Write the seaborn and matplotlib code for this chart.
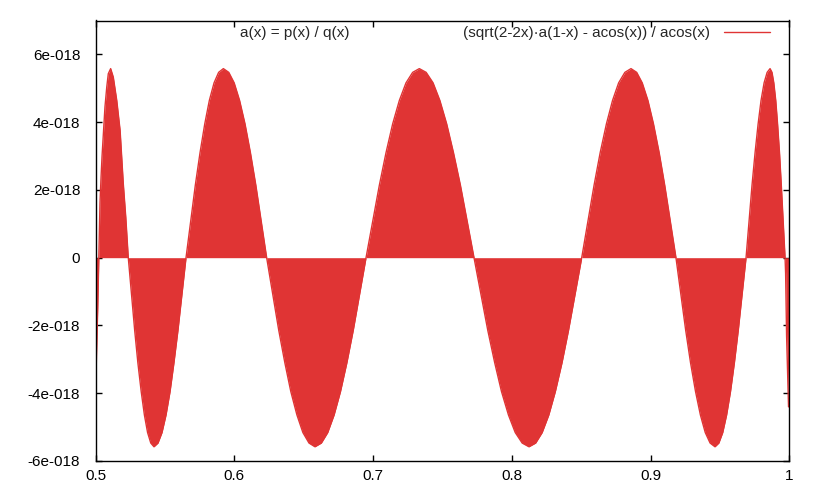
import numpy as np
import pandas as pd
import seaborn as sns
import matplotlib
matplotlib.use('Agg')
import matplotlib.pyplot as plt

# envelope of the relative error curve (y in units of 1e-18)
x_vals = [
    0.5000, 0.5008, 0.5016, 0.5024, 0.5032, 0.5040, 0.5047, 0.5056, 0.5068, 0.5081,
    0.5092, 0.5109, 0.5128, 0.5153, 0.5177, 0.5200, 0.5218, 0.5236,
    0.5282, 0.5305, 0.5329, 0.5352, 0.5375, 0.5398, 0.5421, 0.5450, 0.5479, 0.5508,
    0.5537, 0.5565, 0.5594, 0.5652,
    0.5719, 0.5753, 0.5787, 0.5820, 0.5854, 0.5887, 0.5921, 0.5960, 0.5999, 0.6038,
    0.6077, 0.6116, 0.6155, 0.6233,
    0.6320, 0.6364, 0.6407, 0.6451, 0.6494, 0.6538, 0.6581, 0.6627, 0.6673, 0.6719,
    0.6765, 0.6811, 0.6857, 0.6949,
    0.7045, 0.7093, 0.7141, 0.7189, 0.7237, 0.7285, 0.7333, 0.7382, 0.7432, 0.7481,
    0.7530, 0.7579, 0.7629, 0.7727,
    0.7826, 0.7876, 0.7925, 0.7975, 0.8024, 0.8074, 0.8123, 0.8171, 0.8218, 0.8266,
    0.8313, 0.8361, 0.8408, 0.8503,
    0.8592, 0.8636, 0.8681, 0.8725, 0.8769, 0.8814, 0.8858, 0.8899, 0.8939, 0.8980,
    0.9020, 0.9061, 0.9101, 0.9182,
    0.9252, 0.9287, 0.9323, 0.9358, 0.9393, 0.9428, 0.9463, 0.9491, 0.9519, 0.9547,
    0.9575, 0.9603, 0.9631, 0.9687,
    0.9730, 0.9752, 0.9774, 0.9795, 0.9817, 0.9839, 0.9860, 0.9874, 0.9887, 0.9901,
    0.9914, 0.9928, 0.9941, 0.9968,
    0.9972, 0.9979, 0.9986, 0.9993, 1.0000,
]
err_e18 = [
    -4.07, -2.70, -1.47, 0.00, 1.60, 2.40, 3.00, 3.60, 4.45, 5.04,
    5.43, 5.58, 5.33, 4.64, 3.76, 2.19, 1.19, 0.00,
    -2.14, -3.10, -3.95, -4.64, -5.16, -5.47, -5.58, -5.47, -5.16, -4.64,
    -3.95, -3.10, -2.14, 0.00,
    2.14, 3.10, 3.95, 4.64, 5.16, 5.47, 5.58, 5.47, 5.16, 4.64,
    3.95, 3.10, 2.14, 0.00,
    -2.14, -3.10, -3.95, -4.64, -5.16, -5.47, -5.58, -5.47, -5.16, -4.64,
    -3.95, -3.10, -2.14, 0.00,
    2.14, 3.10, 3.95, 4.64, 5.16, 5.47, 5.58, 5.47, 5.16, 4.64,
    3.95, 3.10, 2.14, 0.00,
    -2.14, -3.10, -3.95, -4.64, -5.16, -5.47, -5.58, -5.47, -5.16, -4.64,
    -3.95, -3.10, -2.14, 0.00,
    2.14, 3.10, 3.95, 4.64, 5.16, 5.47, 5.58, 5.47, 5.16, 4.64,
    3.95, 3.10, 2.14, 0.00,
    -2.14, -3.10, -3.95, -4.64, -5.16, -5.47, -5.58, -5.47, -5.16, -4.64,
    -3.95, -3.10, -2.14, 0.00,
    2.14, 3.10, 3.95, 4.64, 5.16, 5.47, 5.58, 5.47, 5.16, 4.64,
    3.95, 3.10, 2.14, 0.00,
    -0.46, -2.30, -3.30, -4.40, -4.40,
]

x_ticks = [0.5, 0.6, 0.7, 0.8, 0.9, 1.0]
x_tick_labels = ['0.5', '0.6', '0.7', '0.8', '0.9', '1']
y_ticks = [-6e-18, -4e-18, -2e-18, 0, 2e-18, 4e-18, 6e-18]
y_tick_labels = ['-6e-018', '-4e-018', '-2e-018', '0', '2e-018', '4e-018', '6e-018']

key_title = 'a(x) = p(x) / q(x)'
curve_label = '(sqrt(2-2x)\u00b7a(1-x) - acos(x)) / acos(x)'
red = '#e03434'

sns.set_style('ticks')
plt.rcParams['font.family'] = ['Liberation Sans', 'DejaVu Sans']

df = pd.DataFrame({'x': x_vals, 'err': np.array(err_e18) * 1e-18})

fig = plt.figure(figsize=(8.2, 5), dpi=100)
ax = fig.add_axes([0.1165, 0.078, 0.8463, 0.881])

ax.fill_between(df['x'], 0, df['err'], color=red, linewidth=0)
sns.lineplot(data=df, x='x', y='err', ax=ax, color=red, linewidth=1.0, label=curve_label)

ax.set_xlim(0.5, 1.0)
ax.set_ylim(-6e-18, 7e-18)
ax.set_xticks(x_ticks)
ax.set_xticklabels(x_tick_labels)
ax.set_yticks(y_ticks)
ax.set_yticklabels(y_tick_labels)
ax.set_xlabel('')
ax.set_ylabel('')
ax.tick_params(direction='in', length=4, width=1, top=True, right=True,
               labelsize=11, colors='black')
ax.tick_params(axis='y', pad=11)
ax.tick_params(axis='x', pad=6)
for sp in ax.spines.values():
    sp.set_visible(True)
    sp.set_linewidth(1)
    sp.set_color('black')

ax.legend(loc='upper right', frameon=False, markerfirst=False, fontsize=11,
          handlelength=3.0, handletextpad=0.9, borderpad=0, borderaxespad=0,
          bbox_to_anchor=(770 / 820, 1 - 26 / 500), bbox_transform=fig.transFigure)
fig.text(240 / 820, 1 - 33.5 / 500, key_title, ha='left', va='center', fontsize=11)

fig.savefig('out.png', dpi=100)
